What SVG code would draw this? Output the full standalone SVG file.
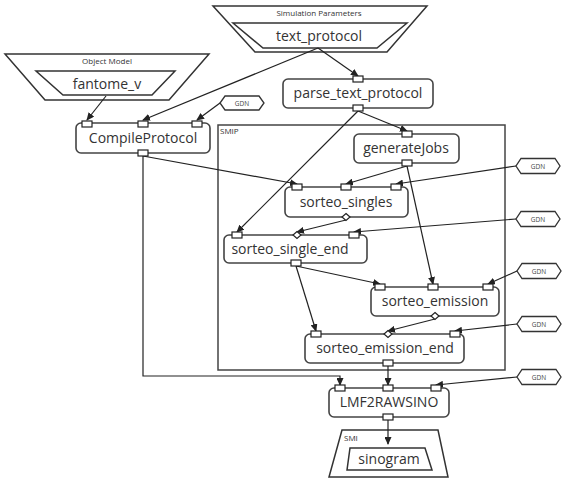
<svg xmlns="http://www.w3.org/2000/svg" width="566" height="483" viewBox="0 0 566 483">
<defs>
<marker id="arr" markerWidth="8" markerHeight="7" refX="7" refY="3.5" orient="auto" markerUnits="userSpaceOnUse">
<path d="M0,0 L8,3.5 L0,7 Z" fill="#222"/>
</marker>
<style>
.box{fill:#fff;stroke:#444;stroke-width:1.6}
.trap{fill:#fff;stroke:#333;stroke-width:1.5}
.port{fill:#fff;stroke:#222;stroke-width:1.2}
.gdn{fill:#fff;stroke:#333;stroke-width:1.3}
.edge{fill:none;stroke:#222;stroke-width:1.2;marker-end:url(#arr)}
.lbl{font-family:"Open Sans","Noto Sans",sans-serif;font-size:14px;fill:#333;text-anchor:middle}
.small{font-family:"Open Sans","Noto Sans",sans-serif;font-size:8px;fill:#333;text-anchor:middle}
.gt{font-family:"Open Sans","Noto Sans",sans-serif;font-size:6.5px;fill:#444;text-anchor:middle}
.frame{fill:none;stroke:#444;stroke-width:1.5}
</style>
</defs>
<rect width="566" height="483" fill="#fff"/>

<g id="SMIP">
<rect class="frame" x="218" y="125" width="287" height="245"/>
<text x="220" y="134" font-family="Open Sans, Noto Sans, sans-serif" font-size="8" fill="#333">SMIP</text>
</g>

<g id="ObjectModel">
<polygon class="trap" points="5,54 209,54 169,100 45,100"/>
<polygon class="trap" points="36,71 175,71 152,95 63,95"/>
<text class="small" x="107" y="64">Object Model</text>
<text class="lbl" x="107" y="89">fantome_v</text>
</g>

<g id="SimulationParameters">
<polygon class="trap" points="213,6 427,6 387,52 255,52"/>
<polygon class="trap" points="233,23 407,23 377,48 263,48"/>
<text class="small" x="319" y="16">Simulation Parameters</text>
<text class="lbl" x="319" y="41">text_protocol</text>
</g>

<g id="SMI">
<polygon class="trap" points="342,430 438,430 448,477 329,477"/>
<polygon class="trap" points="350,448 425,448 432,470 347,470"/>
<text x="344" y="441" font-family="Open Sans, Noto Sans, sans-serif" font-size="8" fill="#333">SMI</text>
<text class="lbl" x="389" y="464">sinogram</text>
</g>

<g id="gdn0"><path class="gdn" d="M225,96 H259 L264,103 L259,110 H225 L220,103 Z"/><text class="gt" x="242" y="105.5">GDN</text></g>
<g id="gdn1"><path class="gdn" d="M521,158.5 H555 L560,166 L555,173.5 H521 L516,166 Z"/><text class="gt" x="538" y="168.5">GDN</text></g>
<g id="gdn2"><path class="gdn" d="M521,211.5 H555 L560,219 L555,226.5 H521 L516,219 Z"/><text class="gt" x="538" y="221.5">GDN</text></g>
<g id="gdn3"><path class="gdn" d="M522,263.5 H556 L561,271 L556,278.5 H522 L517,271 Z"/><text class="gt" x="539" y="273.5">GDN</text></g>
<g id="gdn4"><path class="gdn" d="M522,316.5 H556 L561,324 L556,331.5 H522 L517,324 Z"/><text class="gt" x="539" y="326.5">GDN</text></g>
<g id="gdn5"><path class="gdn" d="M522,369.5 H556 L561,377 L556,384.5 H522 L517,377 Z"/><text class="gt" x="539" y="379.5">GDN</text></g>

<g id="connectors">
<path class="edge" d="M106,96 L87,120"/>
<path class="edge" d="M318,48 L143,120"/>
<path class="edge" d="M318,48 L358,76"/>
<path class="edge" d="M220,103 L197,120"/>
<path class="edge" d="M358,111 L407,131"/>
<path class="edge" d="M358,111 L237,232"/>
<path class="edge" d="M143,156 L297,184"/>
<path class="edge" d="M407,166 L346,184"/>
<path class="edge" d="M516,166 L396,184"/>
<path class="edge" d="M407,166 L433,284"/>
<path class="edge" d="M346,220 L297,232"/>
<path class="edge" d="M516,219 L354,232"/>
<path class="edge" d="M296,266 L380,284"/>
<path class="edge" d="M296,266 L316,331"/>
<path class="edge" d="M517,271 L488,284"/>
<path class="edge" d="M435,319 L388,331"/>
<path class="edge" d="M517,324 L455,331"/>
<path class="edge" d="M388,366 L388,385"/>
<path class="edge" d="M143,156 V376 H340 V385"/>
<path class="edge" d="M517,377 L436,385"/>
<path class="edge" d="M388,420 L388,444"/>
</g>

<g id="CompileProtocol">
<rect class="box" x="76" y="123" width="134" height="30" rx="5"/>
<text class="lbl" x="143" y="143">CompileProtocol</text>
<rect class="port" x="82" y="121" width="10" height="6"/>
<rect class="port" x="138" y="121" width="10" height="6"/>
<rect class="port" x="192" y="121" width="10" height="6"/>
<rect class="port" x="138" y="150" width="10" height="6"/>
</g>

<g id="parse_text_protocol">
<rect class="box" x="283" y="79" width="150" height="29" rx="5"/>
<text class="lbl" x="358" y="98">parse_text_protocol</text>
<rect class="port" x="353" y="76" width="10" height="6"/>
<rect class="port" x="353" y="105" width="10" height="6"/>
</g>

<g id="generateJobs">
<rect class="box" x="354" y="134" width="105" height="29" rx="5"/>
<text class="lbl" x="406" y="153">generateJobs</text>
<rect class="port" x="402" y="131" width="10" height="6"/>
<rect class="port" x="402" y="160" width="10" height="6"/>
</g>

<g id="sorteo_singles">
<rect class="box" x="285" y="187" width="123" height="30" rx="5"/>
<text class="lbl" x="346" y="207">sorteo_singles</text>
<rect class="port" x="292" y="184" width="10" height="6"/>
<rect class="port" x="341" y="184" width="10" height="6"/>
<rect class="port" x="391" y="184" width="10" height="6"/>
<path class="port" d="M346,213.5 L350,217 L346,220.5 L342,217 Z"/>
</g>

<g id="sorteo_single_end">
<rect class="box" x="224" y="235" width="143" height="28" rx="5"/>
<text class="lbl" x="290" y="254">sorteo_single_end</text>
<rect class="port" x="232" y="232" width="10" height="6"/>
<path class="port" d="M297,231.5 L301,235 L297,238.5 L293,235 Z"/>
<rect class="port" x="349" y="232" width="10" height="6"/>
<rect class="port" x="291" y="260" width="10" height="6"/>
</g>

<g id="sorteo_emission">
<rect class="box" x="371" y="287" width="128" height="29" rx="5"/>
<text class="lbl" x="435" y="306">sorteo_emission</text>
<rect class="port" x="375" y="284" width="10" height="6"/>
<rect class="port" x="428" y="284" width="10" height="6"/>
<rect class="port" x="483" y="284" width="10" height="6"/>
<path class="port" d="M435,312.5 L439,316 L435,319.5 L431,316 Z"/>
</g>

<g id="sorteo_emission_end">
<rect class="box" x="305" y="334" width="159" height="29" rx="5"/>
<text class="lbl" x="385" y="353">sorteo_emission_end</text>
<rect class="port" x="311" y="331" width="10" height="6"/>
<path class="port" d="M388,330.5 L392,334 L388,337.5 L384,334 Z"/>
<rect class="port" x="450" y="331" width="10" height="6"/>
<rect class="port" x="383" y="360" width="10" height="6"/>
</g>

<g id="LMF2RAWSINO">
<rect class="box" x="329" y="388" width="120" height="29" rx="5"/>
<text class="lbl" x="389" y="407">LMF2RAWSINO</text>
<rect class="port" x="335" y="385" width="10" height="6"/>
<rect class="port" x="383" y="385" width="10" height="6"/>
<rect class="port" x="431" y="385" width="10" height="6"/>
<rect class="port" x="383" y="414" width="10" height="6"/>
</g>
</svg>
